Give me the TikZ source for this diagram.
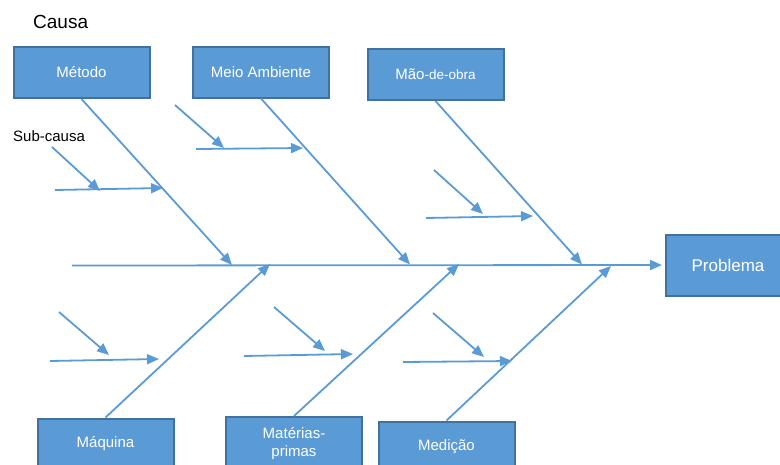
\documentclass[tikz,border=0pt]{standalone}
\usepackage{fontspec}
\setmainfont{Liberation Sans}
\usetikzlibrary{arrows.meta}
\definecolor{boxfill}{HTML}{5B9BD5}
\definecolor{boxedge}{HTML}{41719C}
\tikzset{
causebox/.style={draw=boxedge, fill=boxfill, line width=2pt, text=white,
  inner sep=0pt, minimum width=136pt, minimum height=51pt, align=center,
  font=\fontsize{15}{18}\selectfont},
bone/.style={draw=boxfill, line width=1.8pt, -{Triangle[length=12pt,width=10pt]}}
}

\begin{document}
\begin{tikzpicture}[x=1pt,y=-1pt]
\useasboundingbox (0,0) rectangle (780,464);
% labels
\node[anchor=west, inner sep=0pt, font=\fontsize{19}{22}\selectfont] (causa) at (33,22) {Causa};
\node[anchor=west, inner sep=0pt, font=\fontsize{15}{18}\selectfont] (subcausa) at (13,136) {Sub-causa};
% cause boxes
\node[causebox] (metodo) at (81.5,72.5) {Método};
\node[causebox] (meio) at (261,72) {Meio Ambiente};
\node[causebox] (mao) at (435.5,74.5) {Mão{\fontsize{13.5}{16}\selectfont-de-obra}};
\node[causebox] (maquina) at (105.5,444) {Máquina};
\node[causebox, minimum height=54pt] (materias) at (294,444) {Matérias-\\primas};
\node[causebox] (medicao) at (446.5,447) {Medição};
\node[causebox, minimum width=124pt, minimum height=61pt,
  font=\fontsize{17}{20}\selectfont] (problema) at (728,265) {Problema};
% spine
\coordinate (tail) at (72,265.5);
\draw[bone, shorten >=3pt] (tail) -- (problema.west);
% main bones
\coordinate (m1) at (232,265);
\coordinate (m2) at (410,264.5);
\coordinate (m3) at (582,264.5);
\coordinate (b1) at (270,264);
\coordinate (b2) at (459,264);
\coordinate (b3) at (611,266);
\draw[bone] (metodo.south) -- (m1);
\draw[bone] (meio.south) -- (m2);
\draw[bone] (mao.south) -- (m3);
\draw[bone] (maquina.north) -- (b1);
\draw[bone] (materias.north) -- (b2);
\draw[bone] (medicao.north) -- (b3);
% sub-causes
\foreach \i/\ax/\ay/\bx/\by/\cx/\cy/\dx/\dy in {
  1/52/147/100/191/55/190/163/188,
  2/175/105/224/148/196/149/303/148,
  3/434/170/483/214/426/218/533/216,
  4/59/312/109/355/50/361/159/359,
  5/274/307/325/351/244/356/353/354,
  6/433/313/484/357/403/362/512/361}{
  \coordinate (d\i) at (\ax,\ay);
  \coordinate (e\i) at (\bx,\by);
  \coordinate (h\i) at (\cx,\cy);
  \coordinate (k\i) at (\dx,\dy);
  \draw[bone] (d\i) -- (e\i);
  \draw[bone] (h\i) -- (k\i);
}
\end{tikzpicture}
\end{document}
